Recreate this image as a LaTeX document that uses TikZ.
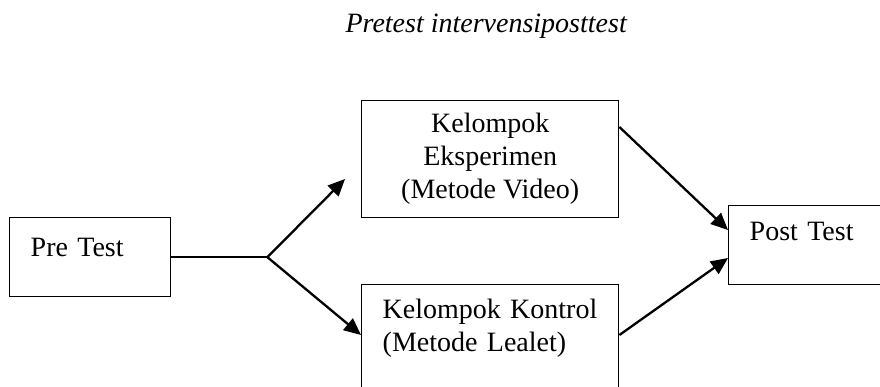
\documentclass[tikz,border=0pt]{standalone}
\usepackage{fontspec}
\setmainfont{Liberation Serif}
\usetikzlibrary{arrows.meta}
\usetikzlibrary{calc}
\tikzstyle{box}=[draw=black, line width=1.4pt, rectangle, inner ysep=0pt, inner xsep=21pt, font=\fontsize{28}{33}\selectfont]
\tikzstyle{link}=[->, line width=2.3pt]
\tikzset{>={Triangle[length=17pt,width=15pt]}}

\begin{document}
\begin{tikzpicture}[x=1pt, y=-1pt]
      \useasboundingbox (0,0) rectangle (880,387);
      \clip (0,0) rectangle (880,387);

      \node at (342,33) [anchor=base west, font=\itshape\fontsize{28}{33}\selectfont] (title) {Pretest intervensiposttest};

      \draw node at (9,217) [box, anchor=north west, text width=119pt, align=left, text height=39pt, text depth=40pt] (pre) {Pre Test};
      \draw node at (361,100) [box, anchor=north west, minimum width=257pt, minimum height=117pt, align=center] (eks) {Kelompok\\Eksperimen\\(Metode Video)};
      \draw node at (361,284) [box, anchor=north west, text width=215pt, align=left, text height=34pt, text depth=74pt] (kon) {Kelompok Kontrol\\(Metode Lealet)};
      \draw node at (728,205) [box, anchor=north west, text width=160pt, align=left, text height=35pt, text depth=44pt] (post) {Post Test};

      % split after pre test
      \coordinate (fork) at ($(pre.east)+(96,0)$);
      \coordinate (upTip) at (345,179);

      \draw [line width=2.3pt] (pre.east) -- (fork);
      \draw [link] (fork) -- (upTip);
      \draw [link] (fork) -- ([yshift=-51pt]kon.north west);

      \draw [link] ([yshift=-27pt]eks.north east) -- ([yshift=-25pt]post.north west);
      \draw [link] ([yshift=-51pt]kon.north east) -- ([yshift=-53pt]post.north west);
    \end{tikzpicture}
\end{document}
